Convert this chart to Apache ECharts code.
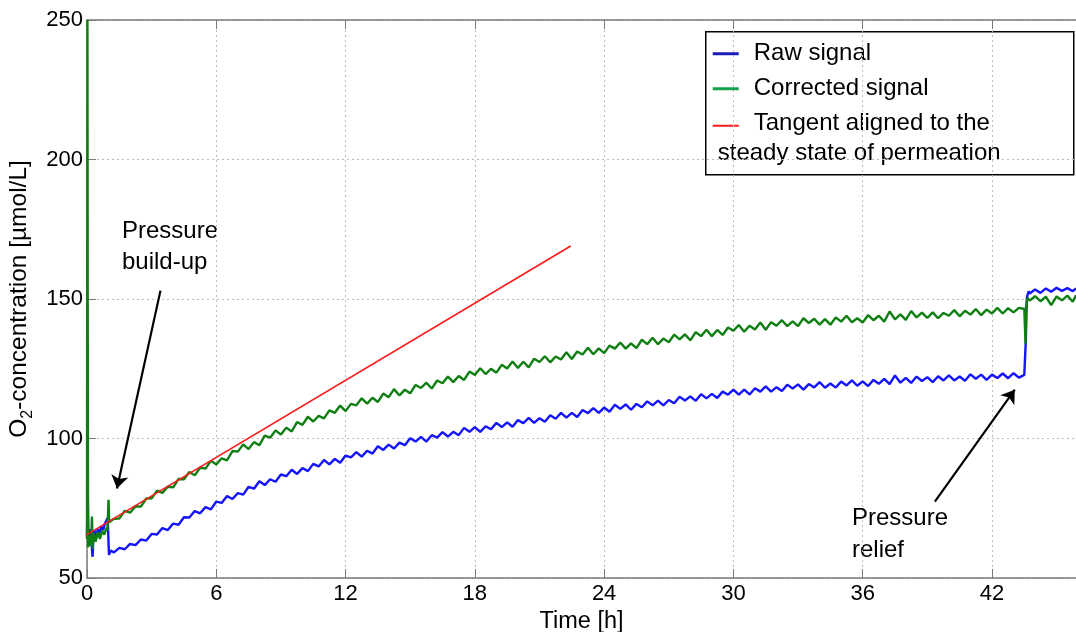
<!DOCTYPE html>
<html>
<head>
<meta charset="utf-8">
<title>O2 permeation</title>
<script src="https://cdn.jsdelivr.net/npm/echarts@6/dist/echarts.min.js"></script>
<style>
  html, body { margin: 0; padding: 0; background: #fff; }
  #chart { width: 1076px; height: 632px; }
</style>
</head>
<body>
<div id="chart"></div>
<script>
// values: [time h, O2 µmol/L]
const rawSignal = [
  [0, 65], [0.03, 83], [0.06, 66.5], [0.1, 64], [0.15, 67.5], [0.2, 63.5], [0.26, 57.6], [0.3, 65.5],
  [0.35, 67], [0.42, 64.8], [0.5, 67.5], [0.58, 66], [0.66, 68.5], [0.75, 67.2], [0.83, 69.5], [0.9, 68.8],
  [0.96, 71.5], [1.0, 72], [1.02, 58.3], [1.1, 59.8],
  [1.25, 59.2], [1.5, 60.8], [1.75, 60.3], [2, 62.2], [2.25, 61.8], [2.5, 63.8], [2.75, 63.4], [3, 65.8],
  [3.25, 65.6], [3.5, 67.9], [3.75, 67.2], [4, 69.5], [4.25, 69.1], [4.5, 71.8], [4.75, 71.7], [5, 74.0],
  [5.25, 73.2], [5.5, 75.4], [5.75, 74.6], [6, 77.4], [6.25, 76.9], [6.5, 79.4], [6.75, 78.3], [7, 80.4],
  [7.25, 79.9], [7.5, 82.7], [7.75, 82.0], [8, 84.7], [8.25, 83.3], [8.5, 85.4], [8.75, 84.5], [9, 87.1],
  [9.25, 86.5], [9.5, 88.8], [9.75, 87.3], [10, 89.4], [10.25, 88.3], [10.5, 90.9], [10.75, 90.0], [11, 92.3],
  [11.25, 90.7], [11.5, 92.7], [11.75, 91.3], [12, 93.9], [12.25, 93.2], [12.5, 95.1], [12.75, 93.5], [13, 95.6],
  [13.25, 94.6], [13.5, 97.2], [13.75, 95.9], [14, 97.8], [14.25, 96.4], [14.5, 98.5], [14.75, 97.6], [15, 100.1],
  [15.25, 98.9], [15.5, 100.6], [15.75, 98.9], [16, 101.2], [16.25, 100.3], [16.5, 102.3], [16.75, 100.7], [17, 102.4],
  [17.25, 101.2], [17.5, 103.8], [17.75, 102.4], [18, 104.1], [18.25, 102.4], [18.5, 104.4], [18.75, 103.3], [19, 105.6],
  [19.25, 104.1], [19.5, 105.8], [19.75, 104.2], [20, 106.6], [20.25, 105.5], [20.5, 107.4], [20.75, 105.6], [21, 107.3],
  [21.25, 106.0], [21.5, 108.3], [21.75, 107.1], [22, 109.2], [22.25, 107.5], [22.5, 109.2], [22.75, 107.7], [23, 110.2],
  [23.25, 109.1], [23.5, 110.9], [23.75, 109.2], [24, 111.1], [24.25, 109.6], [24.5, 112.1], [24.75, 110.6], [25, 112.2],
  [25.25, 110.3], [25.5, 112.4], [25.75, 111.2], [26, 113.3], [26.25, 111.9], [26.5, 113.6], [26.75, 111.9], [27, 113.8],
  [27.25, 112.6], [27.5, 115.0], [27.75, 113.6], [28, 115.1], [28.25, 113.5], [28.5, 115.9], [28.75, 114.4], [29, 116.0],
  [29.25, 114.5], [29.5, 116.8], [29.75, 115.7], [30, 117.5], [30.25, 115.7], [30.5, 117.5], [30.75, 115.8], [31, 118.0],
  [31.25, 116.8], [31.5, 118.7], [31.75, 116.8], [32, 118.4], [32.25, 117.0], [32.5, 119.3], [32.75, 117.9], [33, 119.4],
  [33.25, 117.5], [33.5, 119.5], [33.75, 118.3], [34, 120.2], [34.25, 118.2], [34.5, 119.7], [34.75, 118.3], [35, 120.4],
  [35.25, 119.0], [35.5, 120.8], [35.75, 118.9], [36, 120.5], [36.25, 118.8], [36.5, 121.0], [36.75, 119.6], [37, 121.4],
  [37.25, 119.5], [37.5, 122.6], [37.75, 120.0], [38, 121.7], [38.25, 119.9], [38.5, 122.2], [38.75, 120.6], [39, 122.0],
  [39.25, 120.2], [39.5, 122.3], [39.75, 120.8], [40, 122.6], [40.25, 120.8], [40.5, 122.2], [40.75, 120.7], [41, 123.0],
  [41.25, 121.4], [41.5, 122.9], [41.75, 121.0], [42, 122.9], [42.25, 121.7], [42.5, 123.3], [42.75, 121.6], [43, 123.4],
  [43.25, 121.8], [43.5, 122.8], [43.55, 123.5], [43.57, 135], [43.62, 150.5], [43.7, 152.8], [43.75, 152.0], [44, 153.4],
  [44.25, 152.2], [44.5, 153.8], [44.75, 152.6], [45, 154.0], [45.25, 152.9], [45.5, 153.9], [45.75, 152.8], [45.9, 153.8]
];

const correctedSignal = [
  [0, 64], [0.02, 250], [0.035, 137], [0.05, 61], [0.1, 65], [0.15, 61.5], [0.2, 64], [0.23, 72],
  [0.26, 60.5], [0.3, 66], [0.4, 63], [0.5, 66.5], [0.6, 64], [0.7, 67], [0.8, 65.5], [0.9, 68],
  [0.95, 67], [1.0, 78], [1.03, 70], [1.1, 70.5],
  [1.25, 71.2], [1.5, 71.3], [1.75, 74.1], [2, 73.4], [2.25, 75.7], [2.5, 75.6], [2.75, 78.5], [3, 78.6],
  [3.25, 81.3], [3.5, 80.5], [3.75, 82.7], [4, 82.5], [4.25, 85.5], [4.5, 85.4], [4.75, 88.0], [5, 86.8],
  [5.25, 89.5], [5.5, 89.2], [5.75, 92.0], [6, 90.7], [6.25, 92.9], [6.5, 92.2], [6.75, 95.5], [7, 95.3],
  [7.25, 97.9], [7.5, 96.2], [7.75, 98.7], [8, 97.6], [8.25, 101.0], [8.5, 100.3], [8.75, 102.9], [9, 101.4],
  [9.25, 103.9], [9.5, 102.5], [9.75, 105.9], [10, 104.9], [10.25, 107.8], [10.5, 106.1], [10.75, 108.1], [11, 107.2],
  [11.25, 110.1], [11.5, 109.2], [11.75, 111.8], [12, 109.8], [12.25, 112.4], [12.5, 111.9], [12.75, 114.4], [13, 112.5],
  [13.25, 114.6], [13.5, 113.1], [13.75, 116.1], [14, 114.8], [14.25, 117.7], [14.5, 115.4], [14.75, 117.5], [15, 116.2],
  [15.25, 119.2], [15.5, 118.1], [15.75, 120.0], [16, 117.9], [16.25, 120.8], [16.5, 119.8], [16.75, 122.2], [17, 120.2],
  [17.25, 122.4], [17.5, 121.0], [17.75, 124.0], [18, 122.8], [18.25, 125.2], [18.5, 123.1], [18.75, 125.0], [19, 123.6],
  [19.25, 126.4], [19.5, 125.1], [19.75, 127.6], [20, 125.3], [20.25, 127.5], [20.5, 125.5], [20.75, 128.6], [21, 127.4],
  [21.25, 129.5], [21.5, 127.3], [21.75, 129.4], [22, 128.3], [22.25, 130.9], [22.5, 128.5], [22.75, 131.2], [23, 130.1],
  [23.25, 132.5], [23.5, 130.2], [23.75, 132.3], [24, 130.6], [24.25, 133.3], [24.5, 132.2], [24.75, 134.4], [25, 132.2],
  [25.25, 134.1], [25.5, 132.4], [25.75, 135.4], [26, 133.8], [26.25, 136.1], [26.5, 133.8], [26.75, 135.8], [27, 134.5],
  [27.25, 137.2], [27.5, 135.5], [27.75, 137.3], [28, 135.2], [28.25, 138.1], [28.5, 136.7], [28.75, 139.0], [29, 136.7],
  [29.25, 138.9], [29.5, 137.1], [29.75, 139.8], [30, 138.6], [30.25, 140.7], [30.5, 138.3], [30.75, 140.4], [31, 139.1],
  [31.25, 141.6], [31.5, 139.0], [31.75, 141.7], [32, 140.4], [32.25, 142.4], [32.5, 140.3], [32.75, 142.0], [33, 140.3],
  [33.25, 143.1], [33.5, 141.4], [33.75, 142.9], [34, 140.8], [34.25, 142.8], [34.5, 140.8], [34.75, 143.4], [35, 141.9],
  [35.25, 144.0], [35.5, 141.7], [35.75, 143.1], [36, 141.6], [36.25, 144.2], [36.5, 142.4], [36.75, 144.0], [37, 141.9],
  [37.25, 145.5], [37.5, 142.7], [37.75, 144.5], [38, 142.5], [38.25, 145.7], [38.5, 143.4], [38.75, 145.1], [39, 143.2],
  [39.25, 145.2], [39.5, 143.1], [39.75, 145.0], [40, 144.0], [40.25, 146.0], [40.5, 143.8], [40.75, 145.8], [41, 144.4],
  [41.25, 146.4], [41.5, 144.2], [41.75, 146.2], [42, 144.8], [42.25, 146.8], [42.5, 144.8], [42.75, 146.7], [43, 145.2],
  [43.25, 146.8], [43.5, 146.4], [43.56, 134], [43.58, 147], [43.65, 150.5], [43.75, 149.4], [44, 151.0], [44.25, 149.2],
  [44.5, 150.8], [44.75, 147.8], [45, 150.9], [45.25, 149.5], [45.5, 151.2], [45.75, 149.0], [45.9, 151.3]
];

const tangentLine = [[-0.17, 64.8], [22.45, 169]];

const xTicks = { min: 0, max: 45.9, interval: 6 };
const yTicks = { min: 50, max: 250, interval: 50 };

const legendItems = ['Raw signal', 'Corrected signal', 'Tangent aligned to the', 'steady state of permeation'];

const FONT = '"Liberation Sans", Arial, sans-serif';

const chart = echarts.init(document.getElementById('chart'), null, { renderer: 'canvas' });

const axisColor = '#7a7a7a';
const gridLine = { show: true, lineStyle: { color: '#bdbdbd', width: 1, type: [2, 3] } };

chart.setOption({
  backgroundColor: '#ffffff',
  animation: false,
  grid: { left: 87, right: 0, top: 20, bottom: 54, containLabel: false, outerBoundsMode: 'none' },
  xAxis: [{
    type: 'value',
    position: 'bottom',
    min: xTicks.min,
    max: xTicks.max,
    interval: xTicks.interval,
    name: 'Time [h]',
    nameLocation: 'middle',
    nameGap: 27,
    nameTextStyle: { color: '#000', fontSize: 23.5, fontFamily: FONT },
    axisLine: { show: true, onZero: false, lineStyle: { color: axisColor, width: 1.5 } },
    axisTick: { show: true, inside: true, length: 9, lineStyle: { color: axisColor } },
    axisLabel: { color: '#000', fontSize: 22, fontFamily: FONT, margin: 5, showMaxLabel: false },
    splitLine: gridLine
  }, {
    type: 'value',
    position: 'top',
    min: xTicks.min,
    max: xTicks.max,
    interval: xTicks.interval,
    axisLine: { show: true, onZero: false, lineStyle: { color: axisColor, width: 1.5 } },
    axisTick: { show: true, inside: true, length: 9, lineStyle: { color: axisColor } },
    axisLabel: { show: false },
    splitLine: { show: false }
  }],
  yAxis: {
    type: 'value',
    min: yTicks.min,
    max: yTicks.max,
    interval: yTicks.interval,
    name: '{n|O}{s|2}{n|-concentration [µmol/L]}',
    nameLocation: 'middle',
    nameGap: 51,
    nameTextStyle: {
      color: '#000',
      fontFamily: FONT,
      rich: {
        n: { fontSize: 24.5, fontFamily: FONT, color: '#000', lineHeight: 32, verticalAlign: 'middle' },
        s: { fontSize: 16, fontFamily: FONT, color: '#000', lineHeight: 32, verticalAlign: 'bottom' }
      }
    },
    axisLine: { show: true, onZero: false, lineStyle: { color: axisColor, width: 1.5 } },
    axisTick: { show: true, inside: true, length: 9, lineStyle: { color: axisColor } },
    axisLabel: { color: '#000', fontSize: 22, fontFamily: FONT, margin: 4 },
    splitLine: gridLine
  },
  series: [{
    name: 'Raw signal',
    type: 'line',
    data: rawSignal,
    symbol: 'none',
    lineStyle: { color: '#1414ff', width: 2.4 },
    z: 2
  }, {
    name: 'Corrected signal',
    type: 'line',
    data: correctedSignal,
    symbol: 'none',
    lineStyle: { color: '#0f7f12', width: 2.4 },
    z: 3
  }, {
    name: 'Tangent',
    type: 'line',
    data: tangentLine,
    symbol: 'none',
    clip: false,
    lineStyle: { color: '#ff1a1a', width: 1.6 },
    z: 4,
    markLine: {
      silent: true,
      animation: false,
      symbol: ['none', 'arrow'],
      symbolSize: 13,
      label: { show: false },
      lineStyle: { color: '#000', width: 2.2, type: 'solid' },
      data: [
        [{ coord: [3.41, 153.0] }, { coord: [1.39, 82.1] }],
        [{ coord: [39.35, 77.4] }, { coord: [43.06, 117.5] }]
      ]
    }
  }],
  graphic: [
    // annotations
    { type: 'text', left: 122, top: 219, style: { text: 'Pressure', fill: '#000', font: '24px ' + FONT } },
    { type: 'text', left: 122, top: 250, style: { text: 'build-up', fill: '#000', font: '24px ' + FONT } },
    { type: 'text', left: 852, top: 506, style: { text: 'Pressure', fill: '#000', font: '24px ' + FONT } },
    { type: 'text', left: 852, top: 538, style: { text: 'relief', fill: '#000', font: '24px ' + FONT } },
    // legend box
    {
      type: 'group',
      left: 705,
      top: 31,
      children: [
        { type: 'rect', shape: { x: 0, y: 0, width: 368, height: 143 }, style: { fill: '#fff', stroke: '#000', lineWidth: 1.5 } },
        { type: 'line', shape: { x1: 7, y1: 22, x2: 33, y2: 22 }, style: { stroke: '#1c1cb8', lineWidth: 3 } },
        { type: 'line', shape: { x1: 7, y1: 57, x2: 33, y2: 57 }, style: { stroke: '#12a04a', lineWidth: 3 } },
        { type: 'line', shape: { x1: 7, y1: 94, x2: 33, y2: 94 }, style: { stroke: '#ff1a1a', lineWidth: 2 } },
        { type: 'text', x: 48, y: 22, style: { text: legendItems[0], fill: '#000', font: '24px ' + FONT, verticalAlign: 'middle' } },
        { type: 'text', x: 48, y: 57, style: { text: legendItems[1], fill: '#000', font: '24px ' + FONT, verticalAlign: 'middle' } },
        { type: 'text', x: 48, y: 92, style: { text: legendItems[2], fill: '#000', font: '24px ' + FONT, verticalAlign: 'middle' } },
        { type: 'text', x: 12, y: 122, style: { text: legendItems[3], fill: '#000', font: '24px ' + FONT, verticalAlign: 'middle' } }
      ]
    }
  ]
});
</script>
</body>
</html>
